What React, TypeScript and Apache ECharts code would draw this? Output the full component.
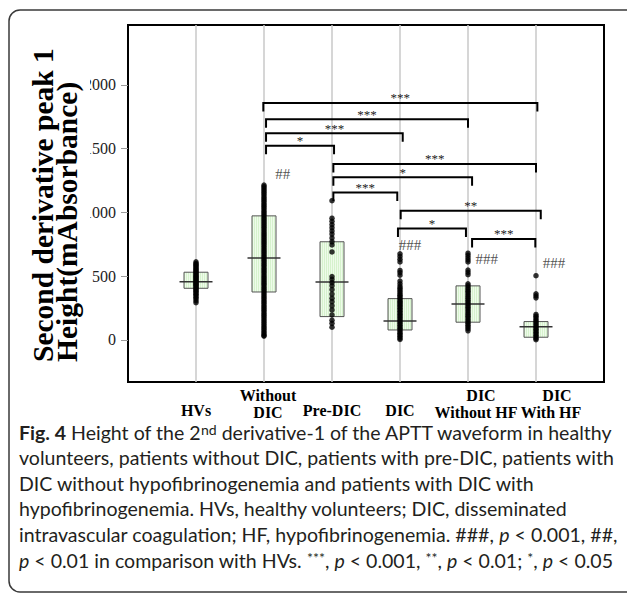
import React, { useEffect, useRef } from 'react';
import * as echarts from 'echarts';

// ---------- data ----------
const categories = ['HVs', 'Without\nDIC', 'Pre-DIC', 'DIC', 'DIC\nWithout HF', 'DIC\nWith HF'];
const yTicks = [0, 500, 1000, 1500, 2000];

const hvValues = [612, 600, 592, 583, 575, 566, 558, 550, 541, 533, 526, 518, 510, 502, 495, 488, 480, 472, 465, 458, 450, 443, 436, 428, 420, 412, 404, 395, 386, 377, 368, 358, 347, 335, 322, 308, 292];
const withoutDicValues = [1215, 1203, 1190, 1176, 1163, 1150, 1136, 1121, 1108, 1094, 1080, 1066, 1053, 1040, 1026, 1012, 999, 985, 972, 958, 945, 931, 918, 904, 890, 877, 864, 850, 836, 823, 810, 796, 782, 769, 756, 742, 728, 715, 701, 688, 674, 660, 647, 633, 620, 606, 592, 579, 565, 552, 538, 525, 511, 497, 484, 470, 457, 443, 430, 416, 402, 389, 375, 362, 348, 334, 321, 307, 294, 280, 266, 253, 239, 226, 212, 198, 185, 171, 158, 144, 130, 117, 103, 90, 76, 62, 49, 36, 30];
const preDicValues = [1092, 955, 930, 905, 880, 855, 830, 800, 770, 745, 690, 497, 475, 450, 425, 395, 360, 327, 300, 268, 235, 196, 155, 130, 100];
const dicValues = [675, 655, 632, 612, 545, 528, 508, 462, 440, 420, 405, 390, 376, 362, 350, 338, 326, 314, 302, 292, 281, 270, 260, 248, 236, 224, 212, 200, 188, 176, 164, 152, 140, 128, 115, 102, 90, 78, 65, 52, 40, 28, 15, 4];
const dicWithoutHfValues = [680, 664, 646, 628, 612, 548, 530, 512, 440, 425, 410, 396, 382, 368, 354, 340, 326, 312, 298, 284, 270, 256, 242, 228, 214, 200, 186, 172, 158, 144, 130, 116, 102, 88, 72];
const dicWithHfValues = [504, 362, 346, 330, 200, 186, 172, 158, 145, 132, 120, 108, 96, 84, 72, 60, 48, 36, 24, 12, 2];

const groupValues = [hvValues, withoutDicValues, preDicValues, dicValues, dicWithoutHfValues, dicWithHfValues];

const boxLow = [405, 376, 183, 78, 139, 21];
const boxMedian = [457, 643, 455, 149, 282, 104];
const boxHigh = [531, 973, 770, 324, 424, 144];

// significance brackets (x in category positions, HVs = 1)
const bracketFrom = [1.99, 2.03, 2.03, 2.03, 3.02, 3.02, 3.02, 4.01, 3.97, 5.06];
const bracketTo = [6.02, 5.0, 4.04, 3.03, 6.0, 5.06, 3.96, 6.07, 4.97, 5.99];
const bracketY = [1859, 1731, 1621, 1522, 1380, 1276, 1157, 1014, 873, 792];
const bracketStars = ['***', '***', '***', '*', '***', '*', '***', '**', '*', '***'];

// comparison with HVs
const hashX = [2.275, 4.147, 5.277, 6.265];
const hashY = [1300, 745, 635, 602];
const hashText = ['##', '###', '###', '###'];

// ---------- styling ----------
const SERIF = '"Liberation Serif", "Times New Roman", serif';
const CAP_FONT = 'Lato';
const labelPad = [[0], [8, 8], [0], [0], [26, 16], [42, 30]];

const captionLines = [
  '{b|Fig. 4} Height of the 2{sup|nd} derivative-1 of the APTT waveform in healthy',
  'volunteers, patients without DIC, patients with pre-DIC, patients with',
  'DIC without hypofibrinogenemia and patients with DIC with',
  'hypofibrinogenemia. HVs, healthy volunteers; DIC, disseminated',
  'intravascular coagulation; HF, hypofibrinogenemia. ###, {i|p} < 0.001, ##,',
  '{i|p} < 0.01 in comparison with HVs. {sup|***}, {i|p} < 0.001, {sup|**}, {i|p} < 0.01; {sup|*}, {i|p} < 0.05',
];

function stripeFill() {
  const stops: { offset: number; color: string }[] = [];
  const n = 12;
  for (let k = 0; k < n; k++) {
    stops.push({ offset: k / n, color: '#d6f2cd' });
    stops.push({ offset: (k + 0.45) / n, color: '#d6f2cd' });
    stops.push({ offset: (k + 0.45) / n, color: '#eefbea' });
    stops.push({ offset: (k + 1) / n, color: '#eefbea' });
  }
  return new echarts.graphic.LinearGradient(0, 0, 1, 0, stops);
}

function captionFontSize(): number {
  const ctx = document.createElement('canvas').getContext('2d');
  if (!ctx) return 19;
  const base = 20;
  ctx.font = `bold ${base}px ${CAP_FONT}`;
  let w = ctx.measureText('Fig. 4').width;
  ctx.font = `${base}px ${CAP_FONT}`;
  w += ctx.measureText(' Height of the 2').width;
  w += ctx.measureText(' derivative-1 of the APTT waveform in healthy').width;
  ctx.font = `${base * 0.62}px ${CAP_FONT}`;
  w += ctx.measureText('nd').width;
  return (base * 593) / w;
}

export default function App() {
  const ref = useRef<HTMLDivElement>(null);

  useEffect(() => {
    if (!ref.current) return;
    const chart = echarts.init(ref.current, null, { renderer: 'svg' });
    const fs = captionFontSize();
    const fill = stripeFill();

    const scatterData: number[][] = [];
    groupValues.forEach((vals, i) => vals.forEach((v) => scatterData.push([i + 1, v])));

    const boxData = boxLow.map((lo, i) => [i + 1, lo, boxMedian[i], boxHigh[i]]);
    const bracketData = bracketFrom.map((f, i) => [f, bracketTo[i], bracketY[i]]);
    const hashData = hashX.map((x, i) => [x, hashY[i]]);

    const rich: Record<string, any> = {};
    labelPad.forEach((pads, i) => {
      pads.forEach((p, j) => {
        rich[`c${i}_${j}`] = {
          fontSize: 16,
          fontWeight: 'bold',
          fontFamily: SERIF,
          color: '#000',
          lineHeight: 17,
          padding: pads.length === 1 ? [12, 0, 0, p] : [0, 0, 0, p],
        };
      });
    });

    const capRich = {
      b: { fontSize: fs, fontFamily: CAP_FONT, fontWeight: 'bold', fill: '#231f20', lineHeight: fs },
      i: { fontSize: fs, fontFamily: CAP_FONT, fontStyle: 'italic', fill: '#231f20', lineHeight: fs },
      sup: { fontSize: fs * 0.72, fontFamily: CAP_FONT, fill: '#231f20', verticalAlign: 'top', lineHeight: fs * 0.72 },
    };

    const option: any = {
      animation: false,
      backgroundColor: '#fff',
      grid: {
        left: 128,
        right: 23,
        top: 25,
        bottom: 219,
        show: true,
        borderColor: '#000',
        borderWidth: 2,
        backgroundColor: '#fff',
      },
      xAxis: {
        type: 'value',
        min: 0,
        max: 7,
        interval: 1,
        axisLine: { show: false },
        axisTick: { show: false },
        splitLine: { show: true, showMinLine: false, showMaxLine: false, lineStyle: { color: '#c9c9c9', width: 1.5 } },
        axisLabel: {
          margin: 22,
          verticalAlign: 'middle',
          formatter: (v: number) => {
            const i = Math.round(v) - 1;
            if (i < 0 || i >= categories.length) return '';
            return categories[i]
              .split('\n')
              .map((s, j) => `{c${i}_${j}|${s}}`)
              .join('\n');
          },
          rich,
        },
      },
      yAxis: {
        type: 'value',
        min: -330,
        max: 2470,
        axisLine: { show: false },
        splitLine: { show: false },
        axisTick: { show: true, length: 7, customValues: yTicks, lineStyle: { color: '#9a9a9a', width: 1 } },
        axisLabel: {
          customValues: yTicks,
          margin: 12,
          fontSize: 16,
          fontFamily: SERIF,
          color: '#222',
          formatter: (v: number) => String(v),
        },
      },
      series: [
        {
          type: 'custom',
          z: 2,
          data: boxData,
          encode: { x: 0, y: [1, 2, 3] },
          renderItem: (params: any, api: any) => {
            const x = api.value(0);
            const top = api.coord([x, api.value(3)]);
            const bot = api.coord([x, api.value(1)]);
            const med = api.coord([x, api.value(2)]);
            const hw = 12;
            return {
              type: 'group',
              children: [
                {
                  type: 'rect',
                  shape: { x: top[0] - hw, y: top[1], width: hw * 2, height: bot[1] - top[1] },
                  style: { fill, stroke: '#555', lineWidth: 1 },
                },
                {
                  type: 'line',
                  z2: 10,
                  shape: { x1: med[0] - 16.5, y1: med[1], x2: med[0] + 16.5, y2: med[1] },
                  style: { stroke: '#333', lineWidth: 1.5 },
                },
              ],
            };
          },
        },
        {
          type: 'scatter',
          z: 3,
          data: scatterData,
          symbol: 'circle',
          symbolSize: 5.5,
          itemStyle: { color: '#000' },
        },
        {
          type: 'custom',
          z: 4,
          data: bracketData,
          encode: { x: [0, 1], y: 2 },
          renderItem: (params: any, api: any) => {
            const y = api.value(2);
            const a = api.coord([api.value(0), y]);
            const b = api.coord([api.value(1), y]);
            const tick = 8.5;
            return {
              type: 'group',
              children: [
                {
                  type: 'polyline',
                  shape: { points: [[a[0], a[1] + tick], [a[0], a[1]], [b[0], b[1]], [b[0], b[1] + tick]] },
                  style: { stroke: '#000', lineWidth: 2, fill: null },
                },
                {
                  type: 'text',
                  x: (a[0] + b[0]) / 2,
                  y: a[1] - 5,
                  style: {
                    text: bracketStars[params.dataIndex],
                    fontSize: 13,
                    fontFamily: SERIF,
                    fill: '#222',
                    align: 'center',
                    verticalAlign: 'middle',
                  },
                },
              ],
            };
          },
        },
        {
          type: 'scatter',
          z: 4,
          data: hashData,
          symbolSize: 0,
          itemStyle: { color: 'transparent' },
          label: {
            show: true,
            position: 'inside',
            formatter: (p: any) => hashText[p.dataIndex],
            fontSize: 15,
            fontFamily: SERIF,
            color: '#222',
          },
        },
      ],
      graphic: [
        {
          type: 'rect',
          shape: { x: 9, y: 10, width: 660, height: 582, r: 11 },
          style: { fill: 'none', stroke: '#3a3a3a', lineWidth: 1.5 },
          silent: true,
        },
        {
          type: 'text',
          x: 31,
          y: 362,
          z: 100,
          rotation: Math.PI / 2,
          style: {
            text: 'Second derivative peak 1\nHeight(mAbsorbance)',
            fontSize: 29.5,
            fontFamily: SERIF,
            fontWeight: 'bold',
            lineHeight: 24,
            align: 'left',
            verticalAlign: 'top',
            fill: '#000',
            backgroundColor: '#fff',
            padding: [0, 0, 11, 0],
          },
        },
        ...captionLines.map((t, k) => ({
          type: 'text',
          x: 19,
          y: 432 + 25.6 * k,
          style: {
            text: t,
            fontSize: fs,
            fontFamily: CAP_FONT,
            fill: '#231f20',
            align: 'left',
            verticalAlign: 'middle',
            lineHeight: fs,
            rich: capRich,
          },
        })),
      ],
    };

    chart.setOption(option);
    return () => chart.dispose();
  }, []);

  return (
    <div
      ref={ref}
      style={{ position: 'fixed', left: 0, top: 0, width: 627, height: 601, background: '#fff' }}
    />
  );
}
